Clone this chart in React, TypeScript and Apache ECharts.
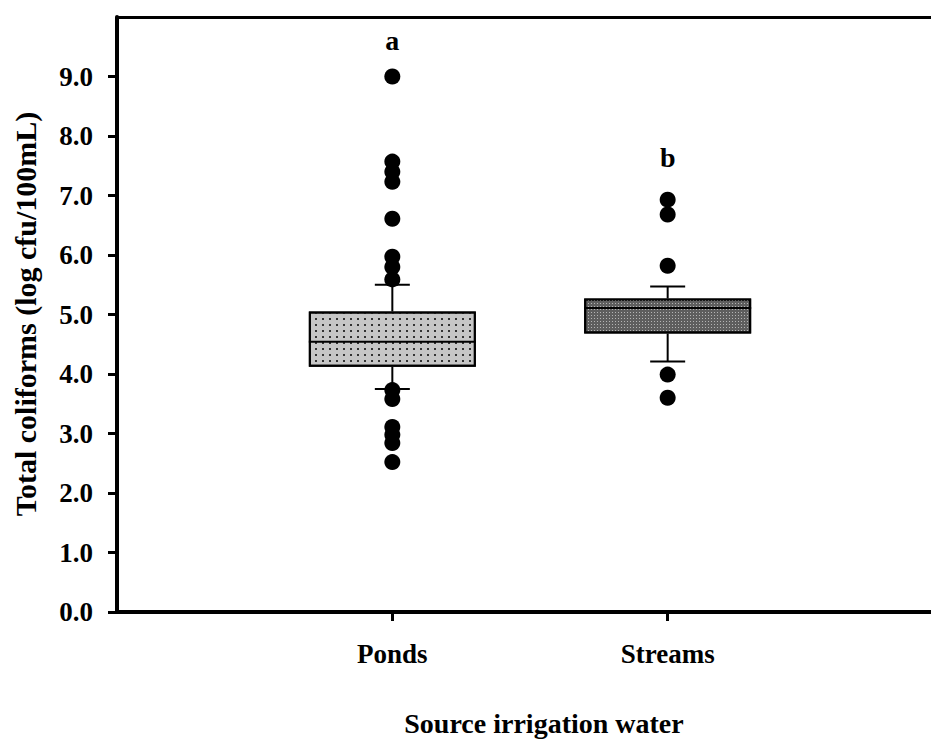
import React, { useEffect, useRef } from "react";
import * as echarts from "echarts";

const categories = ["", "Ponds", "Streams", ""];
const groups = ["Ponds", "Streams"];
const whiskerLow = [3.75, 4.21];
const q1 = [4.12, 4.68];
const median = [4.54, 5.11];
const q3 = [5.05, 5.27];
const whiskerHigh = [5.5, 5.47];
const pondsOutliers = [9.0, 7.57, 7.4, 7.23, 6.61, 5.97, 5.8, 5.59, 3.73, 3.58, 3.11, 2.98, 2.84, 2.52];
const streamsOutliers = [6.93, 6.68, 5.82, 3.99, 3.6];
const sigLetters = ["a", "b"];
const sigLetterY = [9.61, 7.64];
const yTickValues = [0, 1, 2, 3, 4, 5, 6, 7, 8, 9];

const FONT = "Liberation Serif";
const BOX_W = 167;
const CAP_W = 35;

export default function App() {
  const ref = useRef<HTMLDivElement>(null);
  useEffect(() => {
    if (!ref.current) return;
    const chart = echarts.init(ref.current, undefined, { renderer: "svg" });
    const catIdx = (g: string) => categories.indexOf(g);
    const baseData = categories.map((c) => {
      const i = groups.indexOf(c);
      return i < 0 ? "-" : q1[i];
    });
    const boxData = categories.map((c) => {
      const i = groups.indexOf(c);
      return i < 0 ? "-" : +(q3[i] - q1[i]).toFixed(3);
    });
    const whiskerData = groups.map((g, i) => [catIdx(g), whiskerLow[i], q1[i], median[i], q3[i], whiskerHigh[i]]);
    const outlierData: number[][] = [
      ...pondsOutliers.map((v) => [catIdx("Ponds"), v]),
      ...streamsOutliers.map((v) => [catIdx("Streams"), v]),
    ];
    const letterData = groups.map((g, i) => ({ value: [catIdx(g), sigLetterY[i]], letter: sigLetters[i] }));

    const option: any = {
      animation: false,
      grid: { left: 117, top: 17, width: 826, height: 595, containLabel: false, outerBoundsMode: "none" },
      xAxis: [
        {
          type: "category",
          data: categories,
          boundaryGap: false,
          axisLine: { lineStyle: { color: "#000", width: 4 } },
          axisTick: {
            length: 9,
            interval: (idx: number) => idx === 1 || idx === 2,
            lineStyle: { color: "#000", width: 3 },
          },
          axisLabel: {
            interval: 0,
            margin: 28,
            color: "#000",
            fontFamily: FONT,
            fontWeight: "bold",
            fontSize: 27,
          },
          splitLine: { show: false },
        },
        {
          type: "category",
          data: categories,
          position: "top",
          boundaryGap: false,
          axisLine: { lineStyle: { color: "#000", width: 3 } },
          axisTick: { show: false },
          axisLabel: { show: false },
          splitLine: { show: false },
        },
      ],
      yAxis: {
        type: "value",
        min: 0,
        max: 10,
        interval: 1,
        axisLine: { show: true, lineStyle: { color: "#000", width: 4 } },
        axisTick: { show: true, length: 9, customValues: yTickValues, lineStyle: { color: "#000", width: 3 } },
        axisLabel: {
          customValues: yTickValues,
          formatter: (v: number) => v.toFixed(1),
          margin: 24,
          color: "#000",
          fontFamily: FONT,
          fontWeight: "bold",
          fontSize: 27,
        },
        splitLine: { show: false },
      },
      graphic: [
        {
          type: "text",
          x: 25,
          y: 314,
          rotation: Math.PI / 2,
          style: {
            text: "Total coliforms (log cfu/100mL)",
            fontFamily: FONT,
            fontWeight: "bold",
            fontSize: 30,
            fill: "#000",
            align: "center",
            verticalAlign: "middle",
          },
        },
        {
          type: "text",
          x: 544,
          y: 723,
          style: {
            text: "Source irrigation water",
            fontFamily: FONT,
            fontWeight: "bold",
            fontSize: 28,
            fill: "#000",
            align: "center",
            verticalAlign: "middle",
          },
        },
      ],
      series: [
        {
          type: "bar",
          stack: "box",
          barWidth: BOX_W,
          data: baseData,
          itemStyle: { color: "transparent" },
          silent: true,
        },
        {
          type: "bar",
          stack: "box",
          barWidth: BOX_W,
          data: boxData.map((v, i) => {
            if (v === "-") return "-";
            const isPonds = categories[i] === "Ponds";
            return {
              value: v,
              itemStyle: isPonds
                ? {
                    color: "#c6c6c6",
                    borderColor: "#000",
                    borderWidth: 2,
                    decal: {
                      symbol: "rect",
                      symbolSize: 1,
                      dashArrayX: [2, 5],
                      dashArrayY: [2, 4],
                      color: "#333",
                    },
                  }
                : {
                    color: "#5e5e5e",
                    borderColor: "#000",
                    borderWidth: 2,
                    decal: {
                      symbol: "rect",
                      symbolSize: 1,
                      dashArrayX: [1, 2],
                      dashArrayY: [1, 2],
                      color: "#b4b4b4",
                    },
                  },
            };
          }),
          silent: true,
        },
        {
          type: "custom",
          data: whiskerData,
          encode: { x: 0, y: [1, 2, 3, 4, 5] },
          silent: true,
          z: 3,
          renderItem: (params: any, api: any) => {
            const c = api.value(0);
            const lo = api.coord([c, api.value(1)]);
            const b1 = api.coord([c, api.value(2)]);
            const md = api.coord([c, api.value(3)]);
            const b3 = api.coord([c, api.value(4)]);
            const hi = api.coord([c, api.value(5)]);
            const x = lo[0];
            const st = { stroke: "#000", lineWidth: 2 };
            return {
              type: "group",
              children: [
                { type: "line", shape: { x1: x, y1: hi[1], x2: x, y2: b3[1] }, style: st },
                { type: "line", shape: { x1: x, y1: b1[1], x2: x, y2: lo[1] }, style: st },
                { type: "line", shape: { x1: x - CAP_W / 2, y1: hi[1], x2: x + CAP_W / 2, y2: hi[1] }, style: st },
                { type: "line", shape: { x1: x - CAP_W / 2, y1: lo[1], x2: x + CAP_W / 2, y2: lo[1] }, style: st },
                { type: "line", shape: { x1: x - BOX_W / 2, y1: md[1], x2: x + BOX_W / 2, y2: md[1] }, style: st },
              ],
            };
          },
        },
        {
          type: "scatter",
          data: outlierData,
          symbol: "circle",
          symbolSize: 16,
          itemStyle: { color: "#000", opacity: 1 },
          silent: true,
          z: 4,
        },
        {
          type: "scatter",
          data: letterData,
          symbol: "circle",
          symbolSize: 2,
          itemStyle: { color: "rgba(0,0,0,0)", opacity: 1 },
          silent: true,
          z: 5,
          label: {
            show: true,
            position: "inside",
            formatter: (p: any) => p.data.letter,
            color: "#000",
            fontFamily: FONT,
            fontWeight: "bold",
            fontSize: 28,
          },
        },
      ],
    };
    chart.setOption(option);
    return () => chart.dispose();
  }, []);
  return (
    <div
      ref={ref}
      style={{ position: "fixed", left: 0, top: 0, width: 931, height: 740, background: "#fff" }}
    />
  );
}
